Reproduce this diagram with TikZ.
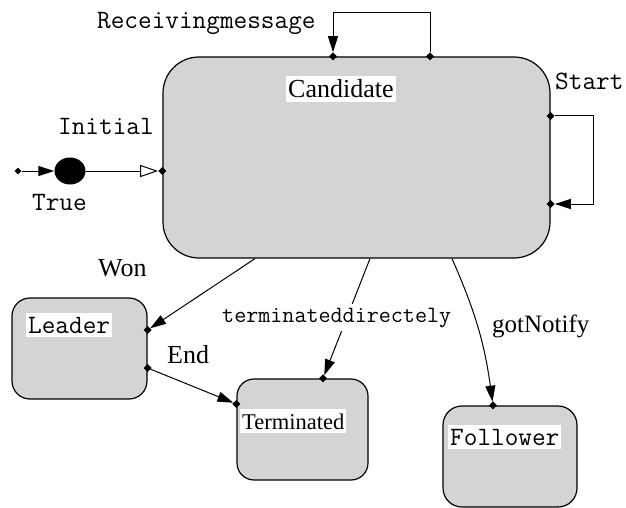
\documentclass[tikz,border=0pt]{standalone}
\usepackage{fontspec}
\usetikzlibrary{arrows.meta,shapes.geometric,positioning}
\definecolor{stategray}{RGB}{212,212,212}
\newfontfamily\seriffam{Liberation Serif}
\newcommand\monolbl{\ttfamily\fontsize{26.5}{29}\selectfont}
\newcommand\monosml{\ttfamily\fontsize{23.4}{26}\selectfont}
\newcommand\seriflbl{\seriffam\fontsize{26}{28}\selectfont}
\newcommand\serifsml{\seriffam\fontsize{22.5}{25}\selectfont}
\tikzset{
    stbox/.style={draw, line width=1.2pt, fill=stategray, inner sep=0pt, minimum height=101pt},
    jdot/.style={diamond, fill=black, inner sep=0pt, minimum size=8pt},
    trans/.style={line width=1pt, -{Triangle[length=16pt,width=10pt]}},
    lbl/.style={anchor=base west, inner sep=0pt, font=\monolbl},
    tag/.style={anchor=base west, inner xsep=2pt, inner ysep=4pt, fill=white}
}

\begin{document}
\begin{tikzpicture}[x=1pt, y=-1pt]
                        \useasboundingbox (0,0) rectangle (626,508);

                        \node[stbox, minimum width=387pt, minimum height=201pt, rounded corners=36pt] (cand) at (356.5,157.5) {};
                        \node[stbox, minimum width=135pt, rounded corners=18pt] (lead) at (79.5,348.5) {};
                        \node[stbox, minimum width=131pt, rounded corners=17pt] (term) at (302.5,429.5) {};
                        \node[stbox, minimum width=134pt, rounded corners=19pt] (foll) at (510,456.5) {};

                        \node[jdot, minimum size=7pt] (init0) at (18,171) {};
                        \node[ellipse, fill=black, inner sep=0pt, minimum width=31pt, minimum height=27pt] (init) at (70,171) {};

                        \node[jdot] (rmIn) at (333,0 |- cand.north) {};
                        \node[jdot] (rmOut) at (430,0 |- cand.north) {};
                        \node[jdot] (stOut) at (cand.east |- 0,116) {};
                        \node[jdot] (stIn) at (cand.east |- 0,204) {};
                        \node[jdot] (initIn) at (cand.west |- 0,171) {};
                        \node[jdot] (lwon) at (lead.east |- 0,330) {};
                        \node[jdot] (lend) at (lead.east |- 0,368) {};
                        \node[jdot] (tend) at (term.west |- 0,404) {};
                        \node[jdot] (tdir) at (323,0 |- term.north) {};
                        \node[jdot] (fnot) at (493,0 |- foll.north) {};
                        \coordinate (wonS) at (255,0 |- cand.south);
                        \coordinate (dirS) at (370,0 |- cand.south);
                        \coordinate (notS) at (452,0 |- cand.south);

                        \draw[trans] (init0) -- (init);
                        \draw[line width=1pt, -{Triangle[open,length=18pt,width=12pt]}] (init) -- (initIn);
                        \draw[trans] (rmOut) -- ++(0,-44) -| (rmIn);
                        \draw[trans] (stOut) -- ++(43,0) |- (stIn);

                        \draw
                        (wonS) edge[trans] (lwon)
                        (lend) edge[trans] (tend)
                        (dirS) edge[trans] (tdir)
                        (notS) edge[trans, bend left=8] (fnot);

                        \node[lbl] (rmLbl) at (97,29) {Receivingmessage};
                        \node[tag, font=\seriflbl] (candLbl) at (286,98) {Candidate};
                        \node[lbl] (stLbl) at (555,90) {Start};
                        \node[lbl] (initLbl) at (58,135) {Initial};
                        \node[lbl] (trueLbl) at (32,210) {True};
                        \node[lbl, font=\seriflbl] (wonLbl) at (98,276) {Won};
                        \node[tag, font=\monolbl] (leadLbl) at (26,333) {Leader};
                        \node[lbl, font=\seriflbl] (endLbl) at (167,363) {End};
                        \node[tag, font=\monosml] (dirLbl) at (220,322) {terminateddirectely};
                        \node[tag, font=\serifsml] (termLbl) at (240,429) {Terminated};
                        \node[lbl, font=\seriffam\fontsize{25}{27}\selectfont] (notLbl) at (492,332) {gotNotify};
                        \node[tag, font=\monolbl] (follLbl) at (448,445) {Follower};
                    \end{tikzpicture}
\end{document}
